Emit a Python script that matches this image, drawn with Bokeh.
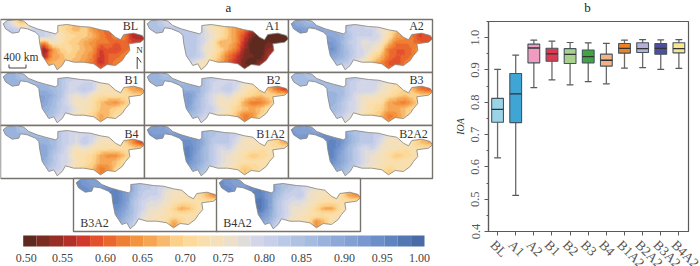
from bokeh.embed import file_html
from bokeh.resources import INLINE
from bokeh.plotting import figure
from bokeh.models import (Range1d, LinearColorMapper, FixedTicker, ColumnDataSource)
from bokeh.core.properties import value
import numpy as np

SERIF = "Liberation Serif"
TXT = "#444444"

# ---- box plot data (IOA)
categories = ["BL", "A1", "A2", "B1", "B2", "B3", "B4", "B1A2", "B2A2", "B3A2", "B4A2"]
whisker_hi = [.902, .946, .992, .989, .985, .984, .982, .992, .994, .993, .994]
q3 = [.812, .889, .980, .967, .966, .962, .949, .982, .984, .982, .984]
median = [.778, .826, .968, .950, .948, .941, .930, .967, .966, .967, .966]
q1 = [.738, .737, .922, .927, .920, .922, .912, .952, .954, .949, .953]
whisker_lo = [.628, .512, .845, .869, .854, .864, .857, .906, .907, .902, .905]
box_colors = ["#9ad4e6", "#3fa5d5", "#ef9cc0", "#dc3a52", "#a9d18e", "#3fa63f", "#f4b183",
              "#f08020", "#b8aed8", "#4e4e9e", "#f8e58c"]

# ---- colour scale
palette = ["#5e2a20", "#7a2c22", "#962e26", "#b42f2a", "#d0392b", "#e2512b", "#ea682d", "#ef7f33",
           "#f3933d", "#f6a552", "#f9b96c", "#fcd088", "#fbda9c", "#f9dfad", "#f5e0bc", "#ece0cb",
           "#dfdcda", "#d2d6e8", "#c7d0e8", "#bcc9e6", "#b0c2e2", "#a5bbdf", "#9ab3dc", "#8ea9d8",
           "#83a0d3", "#7898cf", "#6c8fc9", "#5f84c0", "#5478b2", "#4a6ca6"]
cbar_labels = ["0.50", "0.55", "0.60", "0.65", "0.70", "0.75", "0.80", "0.85", "0.90", "0.95", "1.00"]
cbar_label_x = [25.7, 62, 105, 142, 184.7, 222.7, 264, 301, 344, 381.7, 419]

# ---- basin outline (panel-local)
basin_u = [2.7, 6.7, 16.7, 23.3, 28.3, 36.7, 45, 55, 57.3, 57.3, 66.7, 80, 90, 100, 108.3, 115, 120, 123.3,
           133.3, 141.7, 144, 140, 128.3, 129.3, 125, 121.7, 115, 106.7, 100, 93.3, 83.3, 73.3, 65, 61.7,
           56.7, 53.3, 48.3, 45, 41.7, 39.3, 38.3, 35, 26.7, 20, 18.3, 11.7, 5]
basin_v = [4.3, 1, 0, 1.7, 6, 9.3, 11.7, 14.3, 12.7, 6, 5, 7, 7.7, 10.3, 11.7, 17.7, 20.3, 15,
           13.7, 16, 19.3, 22.7, 24.3, 31, 36, 41, 46, 45, 49.3, 44.3, 42.7, 42.7, 40.3, 46,
           50.3, 44.3, 46, 41, 36, 24.3, 16, 12.7, 9.3, 8.3, 12.7, 13.7, 9.3]

# ---- IOA maps: rows north to south, west to east, in hundredths
grid_BL = [[82,76,68,70,80,80,80,72,70,67,68,67,67,66,63,58,57,57],
           [82,82,80,80,80,80,78,72,69,67,70,65,62,60,63,57,56,56],
           [82,82,82,80,80,80,78,73,71,70,69,67,63,61,63,63,56,55],
           [82,82,82,80,71,64,76,73,70,69,66,64,62,62,60,61,58,58],
           [80,80,80,71,62,53,64,69,71,69,67,65,58,60,58,61,63,63],
           [80,80,80,71,62,55,65,67,70,68,66,63,57,60,61,63,63,63],
           [70,70,70,70,67,65,67,67,68,67,65,62,56,60,63,63,63,63],
           [70,70,70,70,68,67,67,67,67,67,65,63,61,61,63,63,63,63]]
grid_A1 = [[84,84,80,78,80,82,82,76,74,70,68,66,62,58,56,52,50,50],
           [84,84,84,84,82,82,82,78,74,72,68,64,62,56,52,50,50,50],
           [84,84,84,84,82,82,82,78,76,72,68,64,58,52,50,50,50,50],
           [84,84,84,84,82,82,82,78,74,66,68,64,56,50,50,52,50,50],
           [84,84,84,84,82,82,82,76,74,70,66,62,54,50,50,54,55,55],
           [84,84,84,84,84,82,82,78,72,68,62,58,52,52,50,56,56,56],
           [74,74,74,74,80,82,76,74,70,66,60,56,52,50,54,56,56,56],
           [74,74,74,74,76,76,74,72,68,64,60,56,52,52,56,56,56,56]]
grid_A2 = [[90,88,86,86,88,88,88,84,80,80,78,76,72,68,64,62,58,58],
           [92,92,90,90,88,88,86,82,80,80,80,76,74,68,64,60,58,58],
           [92,92,92,92,90,90,88,84,80,80,80,78,72,66,64,62,58,60],
           [90,90,90,90,92,92,88,82,80,76,78,76,68,62,62,62,60,60],
           [90,90,90,90,92,94,88,84,80,78,76,72,62,60,60,62,66,66],
           [86,86,86,86,90,90,88,84,80,78,72,68,62,60,60,62,64,64],
           [82,82,82,82,84,86,84,82,76,72,68,64,60,58,62,64,64,64],
           [82,82,82,82,84,82,80,78,74,70,68,64,60,62,64,64,64,64]]
grid_B1 = [[88,88,84,84,86,86,86,84,82,82,80,78,76,74,72,68,64,62],
           [88,88,88,86,86,86,86,84,80,78,80,80,76,74,72,66,62,60],
           [88,88,88,88,88,88,86,84,80,80,82,80,74,74,72,70,66,64],
           [88,88,88,88,90,90,88,84,78,76,78,74,72,72,72,72,70,70],
           [88,88,88,88,90,90,86,82,78,74,74,72,68,65,64,68,72,72],
           [86,86,86,86,88,88,86,82,80,76,74,72,68,68,70,72,72,72],
           [84,84,84,84,86,86,84,80,78,74,72,70,66,68,72,72,72,72],
           [80,80,80,80,84,82,80,78,76,74,72,70,66,68,72,72,72,72]]
grid_B2 = [[88,88,84,84,86,86,86,84,82,82,80,78,76,74,72,66,62,60],
           [88,88,88,88,86,86,86,84,80,78,80,80,76,74,70,64,60,58],
           [88,88,88,88,88,88,88,84,80,80,82,78,74,72,70,68,62,58],
           [88,88,88,88,90,92,88,82,78,76,78,74,72,70,68,70,70,70],
           [88,88,88,88,90,92,86,82,78,74,74,72,66,62,62,66,72,72],
           [86,86,86,86,90,90,86,82,80,76,74,70,68,66,68,72,72,72],
           [84,84,84,84,88,86,84,80,78,74,72,68,62,64,70,72,72,72],
           [80,80,80,80,84,82,80,78,76,74,72,68,62,66,72,72,72,72]]
grid_B3 = [[86,86,84,84,84,84,86,84,82,80,80,78,76,74,72,66,62,60],
           [86,86,86,86,86,86,84,82,80,78,80,78,76,72,70,64,60,58],
           [86,86,86,86,86,86,86,82,80,80,80,76,74,72,70,68,62,60],
           [86,86,86,86,88,88,86,82,78,76,76,74,72,70,68,70,70,70],
           [86,86,86,86,88,88,84,80,78,74,72,72,66,64,62,66,72,72],
           [86,86,86,86,86,86,84,80,78,74,72,70,66,66,68,70,72,72],
           [84,84,84,84,84,84,82,78,76,72,70,68,62,64,68,72,72,72],
           [78,78,78,78,82,80,78,76,74,72,70,68,64,66,70,72,72,72]]
grid_B4 = [[88,88,84,84,86,86,86,82,80,80,80,78,76,74,72,68,62,60],
           [88,88,88,86,86,86,86,82,80,78,80,80,76,74,72,66,62,60],
           [88,88,88,88,88,88,86,82,80,78,82,78,74,74,72,70,64,58],
           [88,88,88,88,88,90,86,82,78,74,76,74,72,72,72,72,70,70],
           [88,88,88,88,90,90,84,80,78,72,72,70,66,64,64,68,72,72],
           [86,86,86,86,88,88,84,80,78,74,72,70,66,66,68,72,72,72],
           [84,84,84,84,86,86,82,80,76,72,70,68,62,64,70,72,72,72],
           [78,78,78,78,84,82,80,76,74,72,70,68,62,66,72,72,72,72]]
grid_B1A2 = [[92,90,90,88,92,92,90,86,84,84,82,78,76,74,72,70,68,68],
             [92,92,92,92,92,92,90,86,84,82,82,80,76,74,74,70,68,68],
             [92,92,92,92,94,94,92,88,82,82,82,78,74,74,74,72,70,66],
             [92,92,92,92,94,96,92,86,82,78,80,76,74,74,72,72,72,72],
             [92,92,92,92,94,96,90,86,82,78,76,74,72,68,70,72,74,74],
             [90,90,90,90,94,94,90,86,82,78,76,74,72,72,72,73,74,74],
             [88,88,88,88,92,90,88,84,80,76,74,72,68,70,72,74,74,74],
             [84,84,84,84,88,86,84,82,78,76,74,72,68,70,74,74,74,74]]
grid_B2A2 = [[92,90,90,88,92,94,90,86,84,84,82,78,76,74,72,72,70,70],
             [92,92,92,92,94,94,92,88,84,82,82,80,76,74,74,72,70,70],
             [92,92,92,92,94,96,94,88,84,82,82,78,74,74,74,72,68,66],
             [92,92,92,92,96,96,92,86,82,78,80,76,74,74,72,72,72,72],
             [92,92,92,92,96,96,90,86,82,78,76,74,72,68,70,72,74,74],
             [90,90,90,90,94,94,90,86,82,78,76,74,73,72,73,73,74,74],
             [88,88,88,88,92,90,88,84,80,76,74,73,70,72,73,74,74,74],
             [84,84,84,84,88,86,84,82,78,76,74,72,68,70,74,74,74,74]]
grid_B3A2 = [[94,92,90,90,92,94,92,86,84,82,82,78,76,74,72,68,66,66],
             [94,94,92,92,94,96,92,88,82,82,80,78,76,74,72,70,66,64],
             [94,94,94,94,96,96,92,86,82,80,80,76,74,74,72,72,68,64],
             [94,94,94,94,96,96,92,84,80,78,78,76,74,72,72,72,72,72],
             [94,94,94,94,94,94,90,84,80,76,76,74,70,66,68,72,74,74],
             [90,90,90,90,92,92,88,84,78,76,74,73,72,72,72,73,74,74],
             [88,88,88,88,90,90,86,82,76,74,74,72,66,70,73,74,74,74],
             [84,84,84,84,88,86,84,80,76,74,74,72,64,70,74,74,74,74]]
grid_B4A2 = [[94,92,90,90,94,94,92,86,84,84,82,78,76,74,72,68,66,66],
             [94,94,92,92,94,96,92,88,84,82,80,78,76,74,72,70,64,64],
             [94,94,94,94,96,96,92,86,82,80,82,76,74,74,72,72,66,64],
             [94,94,94,94,96,98,92,84,80,78,78,76,74,72,72,72,72,72],
             [94,94,94,94,96,98,92,84,80,76,76,74,70,66,66,72,74,74],
             [90,90,90,90,94,94,90,84,80,76,74,73,72,72,72,73,74,74],
             [88,88,88,88,92,90,88,82,78,74,74,72,64,68,73,74,74,74],
             [84,84,84,84,88,86,84,80,76,74,74,72,64,70,74,74,74,74]]

# name, grid, panel left, panel top, label centre x, label centre y
panels = [("BL", grid_BL, 0, 19, 130, 25), ("A1", grid_A1, 144, 19, 272, 25), ("A2", grid_A2, 288, 19, 416, 25),
          ("B1", grid_B1, 0, 72, 131, 79), ("B2", grid_B2, 144, 72, 273, 79), ("B3", grid_B3, 288, 72, 416, 79),
          ("B4", grid_B4, 0, 125, 131, 133), ("B1A2", grid_B1A2, 144, 125, 270, 133), ("B2A2", grid_B2A2, 288, 125, 413, 133),
          ("B3A2", grid_B3A2, 73, 178, 94, 222), ("B4A2", grid_B4A2, 216, 178, 237, 222)]

W, H = 700, 266
P2_LEFT = 450
BORDER_LEFT, BORDER_RIGHT = 38, 12
XLOW, XHIGH = 0.5, 11.53
PW, PH = 144, 53
FRAME = "#77736e"


def Y(y):
    return H - np.asarray(y, dtype=float)


def soften(a, k=6):
    """Resample a coarse grid for display, as the map's blurred raster looks."""
    r, c = a.shape
    yy = (np.arange(r * k) + 0.5) / k - 0.5
    xx = (np.arange(c * k) + 0.5) / k - 0.5
    y0 = np.clip(np.floor(yy).astype(int), 0, r - 2)
    x0 = np.clip(np.floor(xx).astype(int), 0, c - 2)
    ty = np.clip(yy - y0, 0, 1)[:, None]
    tx = np.clip(xx - x0, 0, 1)[None, :]
    return ((1 - ty) * (1 - tx) * a[np.ix_(y0, x0)] + (1 - ty) * tx * a[np.ix_(y0, x0 + 1)]
            + ty * (1 - tx) * a[np.ix_(y0 + 1, x0)] + ty * tx * a[np.ix_(y0 + 1, x0 + 1)])


p1 = figure(width=W, height=H, x_range=Range1d(0, W), y_range=Range1d(0, H),
            x_axis_location=None, y_axis_location=None, title=None,
            output_backend="svg", toolbar_location=None, min_border=0,
            styles={"position": "absolute", "left": "0px", "top": "0px"})
p1.grid.visible = False
p1.outline_line_color = None

mapper = LinearColorMapper(palette=palette, low=0.5, high=1.0)

for name, grid, ox, oy, lx, ly in panels:
    arr = soften(np.array(grid, dtype=float)[::-1] / 100.0)
    p1.image(image=[arr], x=ox, y=float(Y(oy + PH)), dw=PW, dh=PH, color_mapper=mapper)
    bx = [ox + u for u in basin_u]
    by = list(Y([oy + v for v in basin_v]))
    rx = [ox, ox + PW, ox + PW, ox]
    ry = list(Y([oy, oy, oy + PH, oy + PH]))
    p1.multi_polygons(xs=[[[rx, bx]]], ys=[[[ry, by]]], fill_color="white", line_color=None)
    p1.patch(bx, by, fill_color=None, line_color="#85827a", line_width=0.8)
    p1.quad(left=[ox], right=[ox + PW], top=[float(Y(oy))], bottom=[float(Y(oy + PH))],
            fill_color=None, line_color=FRAME, line_width=1.4)
    p1.text(x=[lx], y=[float(Y(ly))], text=[name], text_font=value(SERIF), text_font_size="12px",
            text_align="center", text_baseline="middle", text_color="#333333")

# scale bar and north arrow
p1.text(x=[20.5], y=[float(Y(56.5))], text=["400 km"], text_font=value(SERIF), text_font_size="11.5px",
        text_align="center", text_baseline="middle", text_color="#333333")
p1.line([8.5, 8.5, 25.5, 25.5], list(Y([64, 67.5, 67.5, 64])), line_color="#444444", line_width=1)
p1.text(x=[139], y=[float(Y(49.5))], text=["N"], text_font=value(SERIF), text_font_size="9px",
        text_align="center", text_baseline="middle", text_color="#333333")
p1.line([136.7, 136.7, 140.7], list(Y([68.5, 56.5, 62])), line_color="#444444", line_width=1)

# panel titles
p1.text(x=[228, 587], y=[float(Y(6.5)), float(Y(6.5))], text=["a", "b"], text_font=value(SERIF),
        text_font_size="13px", text_align="center", text_baseline="middle", text_color="#222222")

# colour bar
n = len(palette)
cb_left, cb_right = 22.7, 424.0
edges = [cb_left + (cb_right - cb_left) * i / n for i in range(n + 1)]
p1.quad(left=edges[:-1], right=edges[1:], top=[float(Y(235))] * n, bottom=[float(Y(246))] * n,
        fill_color=palette, line_color=None)
p1.text(x=cbar_label_x, y=[float(Y(257))] * len(cbar_labels), text=cbar_labels, text_font=value(SERIF),
        text_font_size="12px", text_align="center", text_baseline="middle", text_color=TXT)

# ---- box plot
xs = list(range(1, len(categories) + 1))
p2 = figure(width=W - P2_LEFT, height=H, x_range=Range1d(XLOW, XHIGH), y_range=Range1d(0.4, 1.05),
            output_backend="svg", toolbar_location=None, title=None,
            min_border_left=BORDER_LEFT, min_border_right=BORDER_RIGHT, min_border_top=21, min_border_bottom=35,
            styles={"position": "absolute", "left": f"{P2_LEFT}px", "top": "0px"})
p2.grid.visible = False
p2.outline_line_color = "#5a5a5a"
p2.outline_line_width = 1.2
p2.border_fill_color = None
p2.background_fill_color = None

src = ColumnDataSource(dict(x=xs, hi=whisker_hi, q3=q3, med=median, q1=q1, lo=whisker_lo, color=box_colors))
p2.segment("x", "lo", "x", "hi", source=src, line_color="#6a6a6a", line_width=1.3)
p2.rect("x", "hi", width=0.34, height=0.0001, source=src, line_color="#5a5a5a", line_width=1.2, fill_color=None)
p2.rect("x", "lo", width=0.34, height=0.0001, source=src, line_color="#5a5a5a", line_width=1.2, fill_color=None)
p2.vbar(x="x", width=0.65, top="q3", bottom="q1", source=src, fill_color="color", line_color="#44555f", line_width=1.1)
p2.segment(x0=[x - 0.325 for x in xs], x1=[x + 0.325 for x in xs], y0=median, y1=median,
           line_color="#333333", line_width=1.3)

xa, ya = p2.xaxis[0], p2.yaxis[0]
xa.ticker = FixedTicker(ticks=xs)
xa.major_label_overrides = {x: "" for x in xs}
xa.major_label_text_color = None
xa.major_label_standoff = 0
ya.ticker = FixedTicker(ticks=[.4, .5, .6, .7, .8, .9, 1.0],
                        minor_ticks=[.45, .55, .65, .75, .85, .95, 1.05])
ya.major_label_overrides = {.4: "0.4", .5: "0.5", .6: "0.6", .7: "0.7", .8: "0.8", .9: "0.9", 1.0: "1.0"}
ya.major_label_orientation = "vertical"
ya.axis_label = "IOA"
ya.axis_label_text_font = SERIF
ya.axis_label_text_font_style = "italic"
ya.axis_label_text_font_size = "10px"
ya.axis_label_text_color = "#333333"
ya.axis_label_standoff = 3
ya.major_label_text_font = SERIF
ya.major_label_text_font_size = "12.5px"
ya.major_label_text_color = "#555555"
ya.major_label_standoff = 5
for a in (xa, ya):
    a.axis_line_color = "#5a5a5a"
    a.axis_line_width = 1.2
    a.major_tick_line_color = "#5a5a5a"
    a.minor_tick_line_color = "#5a5a5a" if a is ya else None
    a.major_tick_out = 4
    a.major_tick_in = 0
    a.minor_tick_out = 2
    a.minor_tick_in = 0

# slanted category labels, on the underlying full-page figure (nothing clips them there),
# placed from the category position through the box plot's x range
frame_left = P2_LEFT + BORDER_LEFT
frame_right = W - BORDER_RIGHT
label_x = [frame_left + (x - XLOW) / (XHIGH - XLOW) * (frame_right - frame_left) - 5 for x in xs]
p1.text(x=label_x, y=[float(Y(242))] * len(xs), text=categories, angle=-45, angle_units="deg",
        text_font=value(SERIF), text_font_size="13.5px", text_align="left", text_baseline="middle",
        text_color="#555555")

open("out.html", "w").write(file_html([p1, p2], INLINE))
